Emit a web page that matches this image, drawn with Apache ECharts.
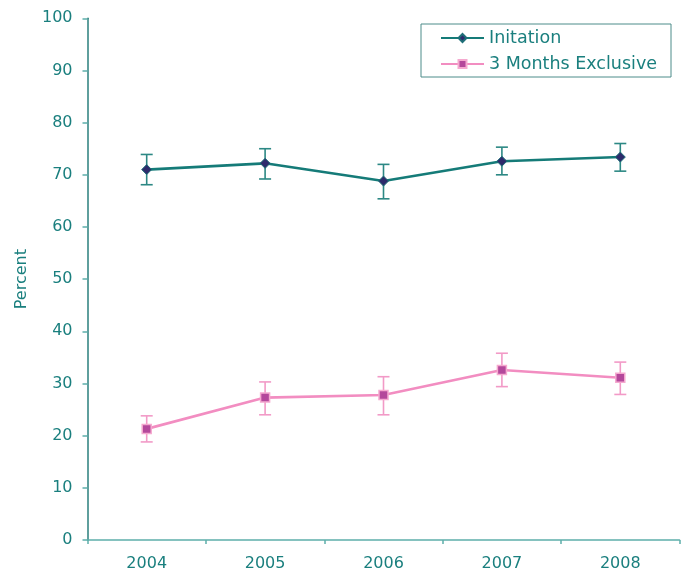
<!DOCTYPE html>
<html>
<head>
<meta charset="utf-8">
<script src="https://cdn.jsdelivr.net/npm/echarts@6/dist/echarts.min.js"></script>
<style>
  html, body { margin: 0; padding: 0; background: #fff; }
  #chart { width: 688px; height: 572px; }
</style>
</head>
<body>
<div id="chart"></div>
<script>
// Survey years
const years = ['2004', '2005', '2006', '2007', '2008'];

// Breastfeeding initiation (%) with 95% CI bounds
const initiation = [71.0, 72.2, 68.8, 72.6, 73.4];
const initiationLow = [68.1, 69.2, 65.4, 70.0, 70.7];
const initiationHigh = [73.9, 75.0, 72.0, 75.3, 76.0];

// Exclusive breastfeeding at 3 months (%) with 95% CI bounds
const exclusive3m = [21.3, 27.3, 27.8, 32.6, 31.1];
const exclusive3mLow = [18.8, 24.0, 24.0, 29.4, 27.9];
const exclusive3mHigh = [23.8, 30.3, 31.3, 35.8, 34.1];

// Y axis range
const yMin = 0, yMax = 100, yStep = 10;

const FONT = 'DejaVu Sans';
const TEXT = '#1A7F7E';
const TEAL = '#157B78';
const PINK = '#F28DC1';

function errorBarData(low, high) {
  return years.map((y, i) => [i, low[i], high[i]]);
}

function errorBarRenderer(color) {
  return function (params, api) {
    const x = api.value(0);
    const lo = api.coord([x, api.value(1)]);
    const hi = api.coord([x, api.value(2)]);
    const half = 6;
    const style = { stroke: color, lineWidth: 1.6 };
    return {
      type: 'group',
      children: [
        { type: 'line', shape: { x1: lo[0], y1: lo[1], x2: hi[0], y2: hi[1] }, style },
        { type: 'line', shape: { x1: hi[0] - half, y1: hi[1], x2: hi[0] + half, y2: hi[1] }, style },
        { type: 'line', shape: { x1: lo[0] - half, y1: lo[1], x2: lo[0] + half, y2: lo[1] }, style }
      ]
    };
  };
}

const chart = echarts.init(document.getElementById('chart'));
chart.setOption({
  backgroundColor: '#ffffff',
  animation: false,
  grid: { left: 87.5, right: 8.5, top: 18.3, bottom: 31.3, containLabel: false },
  legend: {
    data: ['Initation', '3 Months Exclusive'],
    orient: 'vertical',
    left: 421,
    top: 24,
    padding: [5, 14, 4, 19],
    itemWidth: 43,
    itemHeight: 10,
    itemGap: 8,
    borderColor: '#4C8C8A',
    borderWidth: 1,
    borderRadius: 0,
    textStyle: { fontFamily: FONT, fontSize: 17.5, color: TEXT }
  },
  xAxis: {
    type: 'category',
    data: years,
    boundaryGap: true,
    axisLine: { lineStyle: { color: '#5DAEAA', width: 1.5 } },
    axisTick: { show: true, alignWithLabel: false, length: 4, lineStyle: { color: '#5DAEAA', width: 1.5 } },
    axisLabel: { fontFamily: FONT, fontSize: 16, color: TEXT, margin: 16 },
    splitLine: { show: false }
  },
  yAxis: {
    type: 'value',
    min: yMin,
    max: yMax,
    interval: yStep,
    name: 'Percent',
    nameLocation: 'middle',
    nameRotate: 90,
    nameGap: 58,
    nameTextStyle: { fontFamily: FONT, fontSize: 16, color: TEXT },
    axisLine: { show: true, lineStyle: { color: '#2A7F7C', width: 1.5 } },
    axisTick: { show: true, length: 5, lineStyle: { color: '#5DAEAA', width: 1.5 } },
    axisLabel: { fontFamily: FONT, fontSize: 16, color: TEXT, margin: 15 },
    splitLine: { show: false }
  },
  series: [
    {
      name: 'Initation CI',
      type: 'custom',
      renderItem: errorBarRenderer('#2C8884'),
      data: errorBarData(initiationLow, initiationHigh),
      encode: { x: 0, y: [1, 2] },
      z: 1,
      silent: true
    },
    {
      name: '3 Months Exclusive CI',
      type: 'custom',
      renderItem: errorBarRenderer('#F29AC7'),
      data: errorBarData(exclusive3mLow, exclusive3mHigh),
      encode: { x: 0, y: [1, 2] },
      z: 1,
      silent: true
    },
    {
      name: 'Initation',
      type: 'line',
      data: initiation,
      symbol: 'diamond',
      symbolSize: 10,
      lineStyle: { color: TEAL, width: 2.6 },
      itemStyle: { color: '#2D2B6C', borderColor: '#1E6F78', borderWidth: 1 },
      z: 3
    },
    {
      name: '3 Months Exclusive',
      type: 'line',
      data: exclusive3m,
      symbol: 'rect',
      symbolSize: 9,
      lineStyle: { color: PINK, width: 2.6 },
      itemStyle: { color: '#B4489B', borderColor: '#F5A9CF', borderWidth: 1.5 },
      z: 3
    }
  ]
});
</script>
</body>
</html>
